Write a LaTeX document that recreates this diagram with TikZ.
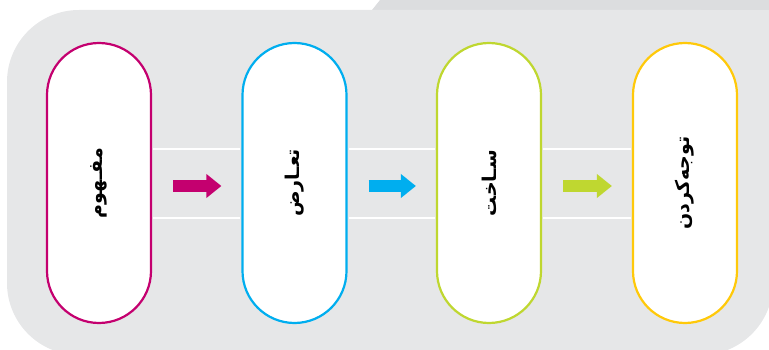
\documentclass[tikz,border=0pt]{standalone}
\usepackage{fontspec}
\newfontfamily\arabicfont[Script=Arabic]{DejaVu Sans}
\TeXXeTstate=1
\usetikzlibrary{arrows.meta,calc}
\definecolor{panelgray}{HTML}{E6E7E8}
\definecolor{tabgray}{HTML}{DCDDDF}
\definecolor{cmag}{HTML}{C4006F}
\definecolor{ccyan}{HTML}{00AEEF}
\definecolor{cgreen}{HTML}{BFD730}
\definecolor{cyellow}{HTML}{FFC90A}
\tikzset{
  pill/.style={rectangle, rounded corners=52pt, minimum width=104pt,
    minimum height=280pt, fill=white, line width=2.2pt, inner sep=0pt},
  steplabel/.style={rotate=90, inner sep=0pt,
    font=\arabicfont\bfseries\fontsize{19}{22}\selectfont},
  band/.style={draw=white, line width=2pt},
  flow/.style={line width=12pt,
    -{Triangle[length=15pt,width=23pt]}, draw=#1},
}
\begin{document}
\begin{tikzpicture}[x=1pt,y=-1pt]
\useasboundingbox (0,0) rectangle (769,350);
\begin{scope}
\clip (0,0) rectangle (769,350);
% folder tab and panel
\fill[tabgray] (372,10) -- (380,0) -- (780,0) -- (780,10) -- cycle;
\fill[panelgray, rounded corners=72pt] (7,10) rectangle (773,355);
\fill[panelgray] (400,10) rectangle (780,200);
\end{scope}
% the four stages
\node[pill, draw=cmag]    (p1) at (99,183)  {};
\node[pill, draw=ccyan]   (p2) at (294.5,183) {};
\node[pill, draw=cgreen]  (p3) at (489,183) {};
\node[pill, draw=cyellow] (p4) at (685,183) {};
\node[steplabel] (t1) at (p1) {\beginR مفـهوم\endR};
\node[steplabel] (t2) at (p2) {\beginR تعـارض\endR};
\node[steplabel] (t3) at (p3) {\beginR سـاخت\endR};
\node[steplabel] (t4) at (p4) {\beginR توجه‌کردن\endR};
% white bands between stages
\foreach \a/\b in {p1/p2, p2/p3, p3/p4}{
  \draw[band] ($(\a.east)+(1,-34)$) -- ($(\b.west)+(-1,-34)$);
  \draw[band] ($(\a.east)+(1,35)$) -- ($(\b.west)+(-1,35)$);
}
% arrows
\draw[flow=cmag]   ($(p1.east)+(21,3)$) -- ($(p2.west)+(-20,3)$);
\draw[flow=ccyan]  ($(p2.east)+(21,3)$) -- ($(p3.west)+(-20,3)$);
\draw[flow=cgreen] ($(p3.east)+(21,3)$) -- ($(p4.west)+(-20,3)$);
\end{tikzpicture}
\end{document}
